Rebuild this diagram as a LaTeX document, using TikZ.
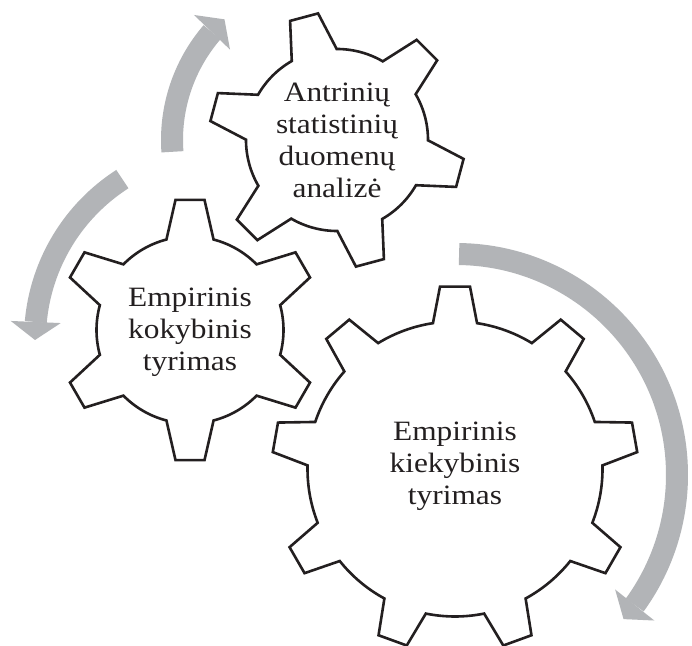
\documentclass[tikz,border=0pt]{standalone}
\usepackage{fontspec}
\newfontfamily\gearfont[FakeStretch=1.12]{Liberation Serif}
\usetikzlibrary{arrows.meta,bending}

\definecolor{arrowgray}{RGB}{178,180,183}
\definecolor{inkblack}{RGB}{35,31,32}

% gear outline centred at the origin of the current scope
% #1 teeth, #2 angle of first tooth, #3 tip radius, #4 root radius,
% #5 half-angle of a tooth tip, #6 half-angle of a tooth base
\newcommand\drawgear[6]{%
  \draw[gearline] ({#2-#6}:#4)
    \foreach \k [evaluate=\k as \a using #2+(\k-1)*360/#1] in {1,...,#1}{
      -- ({\a-#5}:#3) -- ({\a+#5}:#3) -- ({\a+#6}:#4)
      arc[start angle={\a+#6}, end angle={\a+360/#1-#6}, radius=#4]
    } -- cycle;%
}

\begin{document}
\begin{tikzpicture}[x=1pt,y=1pt,
  gearline/.style={draw=inkblack, line width=2.6pt, fill=white, line join=miter},
  gearlabel/.style={align=center, inner sep=0pt, text=inkblack,
    font=\gearfont\fontsize{28}{32}\selectfont},
  cyclearrow/.style={draw=arrowgray, line width=22pt,
    -{Triangle[width=50pt,length=18pt,line width=0pt]}}]

\useasboundingbox (0,0) rectangle (692,645);
\fill[white] (0,0) rectangle (692,645);

% centres of the gears and of the arrow arcs
\coordinate (cA) at (337,505);
\coordinate (cB) at (190,315);
\coordinate (cC) at (455,176);
\coordinate (arcA) at (337,505);
\coordinate (arcB) at (225,306);
\coordinate (arcC) at (456,170);

% curved arrows turning round the gears
\draw[cyclearrow] (arcA) ++(184.1:165) coordinate (tailA)
  arc[start angle=184.1, end angle=133, radius=165];
\draw[cyclearrow] (arcB) ++(122.7:190) coordinate (tailB)
  arc[start angle=122.7, end angle=180.3, radius=190];
\draw[cyclearrow] (arcC) ++(89.2:221) coordinate (tailC)
  arc[start angle=89.2, end angle=-40.7, radius=221];

% upper gear
\begin{scope}[shift={(cA)}]
  \drawgear{6}{105}{128}{91}{6.5}{14.8}
  \node[gearlabel] (labelA) at (0,-0.5) {Antrinių\\statistinių\\duomenų\\analizė};
\end{scope}

% left gear
\begin{scope}[shift={(cB)}]
  \drawgear{6}{90}{131}{93.5}{6.35}{14.6}
  \node[gearlabel] (labelB) at (0,-2) {Empirinis\\kokybinis\\tyrimas};
\end{scope}

% large gear
\begin{scope}[shift={(cC)}]
  \drawgear{9}{90}{183}{147.5}{4.7}{8.6}
  \node[gearlabel] (labelC) at (0,3) {Empirinis\\kiekybinis\\tyrimas};
\end{scope}

\end{tikzpicture}
\end{document}
